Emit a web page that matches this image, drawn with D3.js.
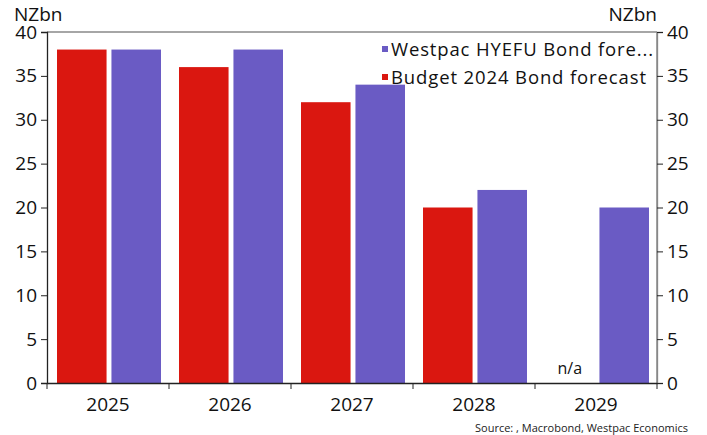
<!DOCTYPE html>
<html><head><meta charset="utf-8">
<script src="https://cdn.jsdelivr.net/npm/d3@7"></script>
<style>body{margin:0;background:#fff}svg{display:block}text{font-family:"Open Sans",Lato,sans-serif}</style>
</head><body>
<svg id="c" width="707" height="435"></svg>
<script>
const categories = ["2025","2026","2027","2028","2029"];
const budget2024 = [38, 36, 32, 20, null];
const westpacHyefu = [38, 38, 34, 22, 20];
const yTicks = [0,5,10,15,20,25,30,35,40];
const seriesNames = ["Westpac HYEFU Bond fore...", "Budget 2024 Bond forecast"];
const colors = {red:"#DA1710", purple:"#6A5BC4"};
const FONT = "'Open Sans', Lato, sans-serif";

const svg = d3.select("#c");
const L = 47, R = 657, T = 32, B = 383;
const x = d3.scaleBand().domain(categories).range([L, R]);
const y = d3.scaleLinear().domain([0, 40]).range([B, T]);
const inner = d3.scaleBand().domain(["b","w"]).range([10, x.bandwidth()-8]).paddingInner(0.09);

// frame
svg.append("line").attr("x1",L).attr("x2",R).attr("y1",T).attr("y2",T).attr("stroke","#888").attr("stroke-width",1.5);
svg.append("line").attr("x1",R).attr("x2",R).attr("y1",T).attr("y2",B).attr("stroke","#888").attr("stroke-width",1.5);

const g = svg.append("g");
categories.forEach((c,i)=>{
  if (budget2024[i] != null) {
    g.append("rect").attr("x", x(c)+inner("b")).attr("width", inner.bandwidth())
     .attr("y", y(budget2024[i])).attr("height", B - y(budget2024[i])).attr("fill", colors.red);
  } else {
    svg.append("text").attr("x", x(c)+inner("b")+inner.bandwidth()/2).attr("y", 374)
      .attr("text-anchor","middle").attr("font-size",16).attr("fill","#111").text("n/a");
  }
  g.append("rect").attr("x", x(c)+inner("w")).attr("width", inner.bandwidth())
   .attr("y", y(westpacHyefu[i])).attr("height", B - y(westpacHyefu[i])).attr("fill", colors.purple);
});

// axes
const yl = svg.append("g").attr("transform",`translate(${L},0)`).call(d3.axisLeft(y).tickValues(yTicks).tickSize(6).tickPadding(4));
const yr = svg.append("g").attr("transform",`translate(${R},0)`).call(d3.axisRight(y).tickValues(yTicks).tickSize(6).tickPadding(4));
[yl,yr].forEach(a=>{a.select(".domain").attr("stroke","#222").attr("stroke-width",1.3);a.selectAll("line").attr("stroke","#222");a.selectAll("text").attr("font-size",19).attr("fill","#111").attr("font-family",FONT);});
yr.select(".domain").attr("stroke","#888");
const xa = svg.append("g").attr("transform",`translate(0,${B})`).call(d3.axisBottom(x).tickSize(0).tickPadding(11));
xa.select(".domain").attr("stroke","#222").attr("stroke-width",1.5);
xa.selectAll("text").attr("font-size",19).attr("fill","#111").attr("font-family",FONT).attr("dy","0.9em");
// band boundary ticks
xa.selectAll(".bt").data(categories.map(c=>x(c)).concat([R])).enter().append("line")
  .attr("x1",d=>d).attr("x2",d=>d).attr("y1",0).attr("y2",6).attr("stroke","#222");

// unit labels
svg.append("text").attr("x",14).attr("y",21).attr("font-size",19).attr("fill","#111").text("NZbn");
svg.append("text").attr("x",657).attr("y",21).attr("font-size",19).attr("fill","#111").attr("text-anchor","end").text("NZbn");

// legend
const leg = [{n:seriesNames[0],c:colors.purple,y:49,w:262},{n:seriesNames[1],c:colors.red,y:77,w:255}];
leg.forEach(d=>{
  svg.append("rect").attr("x",382).attr("y",d.y-3).attr("width",6).attr("height",6).attr("fill",d.c);
  svg.append("text").attr("x",391).attr("y",d.y+7).attr("font-size",18.5).attr("fill","#111")
    .attr("textLength",d.w).attr("lengthAdjust","spacing").text(d.n);
});

svg.append("text").attr("x",688).attr("y",432).attr("text-anchor","end").attr("font-size",11).attr("fill","#222").text("Source: , Macrobond, Westpac Economics");
</script>
</body></html>
